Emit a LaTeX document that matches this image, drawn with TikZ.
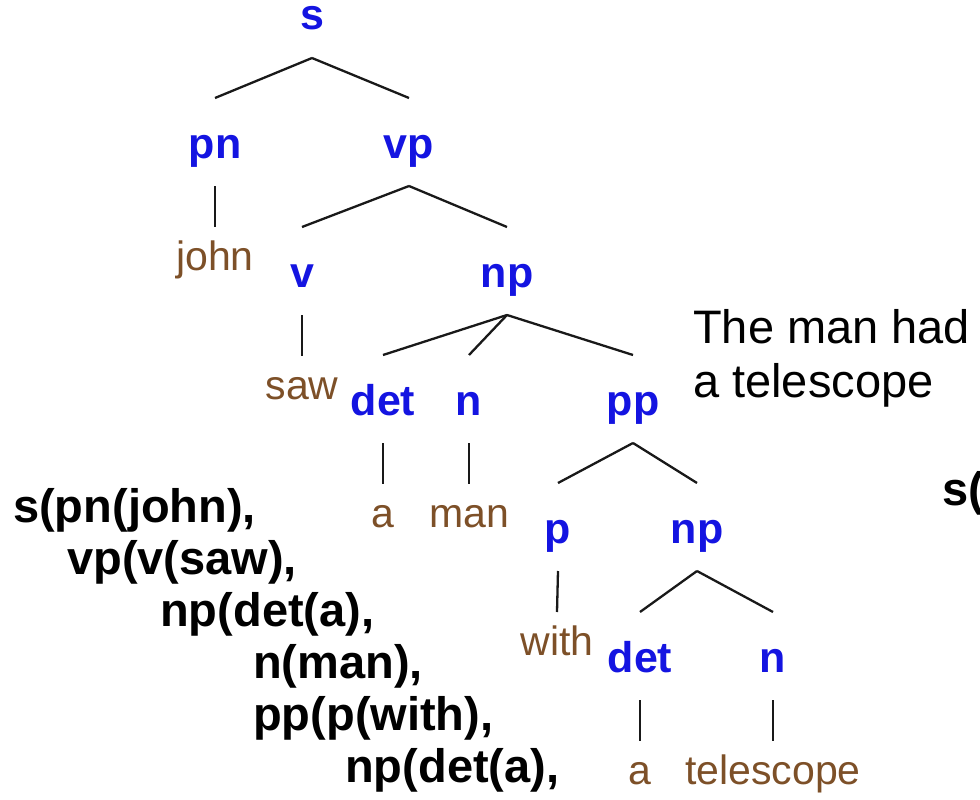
\documentclass[tikz,border=0pt]{standalone}
\usepackage{fontspec}
\setmainfont{Liberation Sans}
\definecolor{catblue}{RGB}{20,20,225}
\definecolor{wordbrown}{RGB}{125,80,40}
\begin{document}
\begin{tikzpicture}[x=1pt,y=-1pt,
  cat/.style={anchor=base, inner sep=0pt, outer ysep=28pt, text height=32pt,
    text depth=0pt, text=catblue, font=\fontsize{43}{43}\selectfont\bfseries},
  word/.style={anchor=base, inner sep=0pt, outer ysep=28pt, text height=15pt,
    text depth=0pt, text=wordbrown, font=\fontsize{41}{41}\selectfont},
  branch/.style={draw=black!90, line width=2.3pt},
  term/.style={anchor=base west, inner sep=0pt,
    font=\fontsize{47}{47}\selectfont\bfseries},
  note/.style={anchor=base west, inner sep=0pt,
    font=\fontsize{47}{47}\selectfont}]
\useasboundingbox (0,0) rectangle (980,800);

% parse tree
\node[cat]  (s)    at (312,30)  {s};
\node[cat]  (pn)   at (215,158) {pn};
\node[cat]  (vp)   at (409,158) {vp};
\node[word] (john) at (215,270) {john};
\node[cat]  (v)    at (302,287) {v};
\node[cat]  (np)   at (507,287) {np};
\node[word] (saw)  at (302,399) {saw};
\node[cat]  (det)  at (383,415) {det};
\node[cat]  (n)    at (469,415) {n};
\node[cat]  (pp)   at (633,415) {pp};
\node[word] (a)    at (383,527) {a};
\node[word] (man)  at (469,527) {man};
\node[cat]  (p)    at (558,543) {p};
\node[cat]  (npb)  at (697,543) {np};
\node[word] (with) at (557,655) {with};
\node[cat]  (detb) at (640,672) {det};
\node[cat]  (nb)   at (773,672) {n};
\node[word] (ab)   at (640,784) {a};
\node[word] (tel)  at (773,784) {telescope};

\draw[branch] (s.south) -- (pn.north);
\draw[branch] (s.south) -- (vp.north);
\draw[branch] (pn.south) -- (john.north);
\draw[branch] (vp.south) -- (v.north);
\draw[branch] (vp.south) -- (np.north);
\draw[branch] (v.south) -- (saw.north);
\draw[branch] (np.south) -- (det.north);
\draw[branch] (np.south) -- (n.north);
\draw[branch] (np.south) -- (pp.north);
\draw[branch] (det.south) -- (a.north);
\draw[branch] (n.south) -- (man.north);
\draw[branch] (pp.south) -- (p.north);
\draw[branch] (pp.south) -- (npb.north);
\draw[branch] (p.south) -- (with.north);
\draw[branch] (npb.south) -- (detb.north);
\draw[branch] (npb.south) -- (nb.north);
\draw[branch] (detb.south) -- (ab.north);
\draw[branch] (nb.south) -- (tel.north);

% Prolog term
\node[term] (t1) at (13,522)  {s(pn(john),};
\node[term] (t2) at (67,574)  {vp(v(saw),};
\node[term] (t3) at (160,626) {np(det(a),};
\node[term] (t4) at (253,678) {n(man),};
\node[term] (t5) at (253,730) {pp(p(with),};
\node[term] (t6) at (345,782) {np(det(a),};

% reading of the tree
\node[note] (r1) at (693,343) {The man had};
\node[note] (r2) at (693,397) {a telescope};
\node[term] (t7) at (942,505) {s(};
\end{tikzpicture}
\end{document}
